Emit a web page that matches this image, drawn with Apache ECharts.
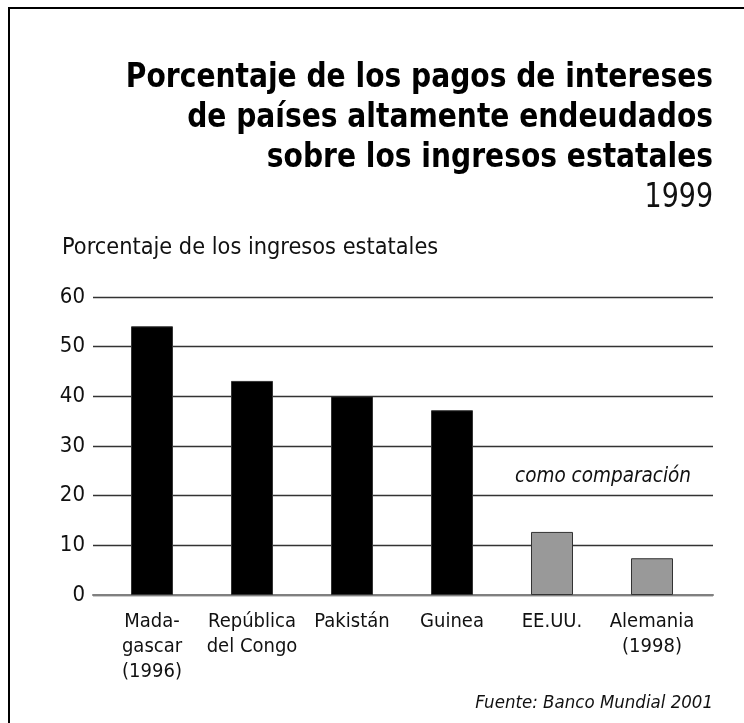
<!DOCTYPE html>
<html>
<head>
<meta charset="utf-8">
<script src="https://cdn.jsdelivr.net/npm/echarts@6/dist/echarts.min.js"></script>
<style>
  html, body { margin: 0; padding: 0; background: #fff; }
  #chart { width: 744px; height: 723px; }
</style>
</head>
<body>
<div id="chart"></div>
<script>
// Data
const categories = ['Mada-\ngascar\n(1996)', 'República\ndel Congo', 'Pakistán', 'Guinea', 'EE.UU.', 'Alemania\n(1998)']
const values = [54.1, 43.1, 40, 37.2, 12.7, 7.4]
const isComparison = [false, false, false, false, true, true]
const yTicks = { min: 0, max: 60, interval: 10 }

const FONT = "'Liberation Sans Narrow', 'DejaVu Sans Condensed', Roboto, sans-serif"
const COL_MAIN = '#000'
const COL_COMP = '#999'
const GRID_LINE = '#333'

const chart = echarts.init(document.getElementById('chart'))

chart.setOption({
  animation: false,
  backgroundColor: '#fff',
  textStyle: { fontFamily: FONT },
  title: [
    {
      text: 'Porcentaje de los ingresos estatales',
      left: 62,
      top: 236,
      padding: 0,
      textStyle: { fontFamily: FONT, fontSize: 23.3, fontWeight: 'normal', color: '#111' },
    },
    {
      text: 'como comparación',
      left: 515,
      top: 467,
      padding: 0,
      textStyle: { fontFamily: FONT, fontSize: 20.5, fontWeight: 'normal', fontStyle: 'italic', color: '#111' },
    },
    {
      text: 'Fuente: Banco Mundial 2001',
      right: 31,
      top: 694,
      padding: 0,
      textStyle: { fontFamily: FONT, fontSize: 18.5, fontWeight: 'normal', fontStyle: 'italic', color: '#111' },
    },
  ],
  graphic: [
    {
      type: 'rect',
      shape: { x: 9, y: 8, width: 900, height: 900 },
      style: { fill: 'none', stroke: '#000', lineWidth: 2 },
      silent: true,
    },
    {
      // headline, squeezed horizontally to mimic the condensed face
      type: 'text',
      x: 713,
      y: 58,
      scaleX: 0.92,
      style: {
        text: 'Porcentaje de los pagos de intereses\nde países altamente endeudados\nsobre los ingresos estatales',
        align: 'right',
        verticalAlign: 'top',
        font: 'bold 34px ' + FONT,
        lineHeight: 40,
        fill: '#000',
      },
    },
    {
      type: 'text',
      x: 713,
      y: 178,
      scaleX: 0.88,
      style: {
        text: '1999',
        align: 'right',
        verticalAlign: 'top',
        font: '34px ' + FONT,
        lineHeight: 40,
        fill: '#111',
      },
    },
  ],
  grid: [
    { left: 93, right: 31, top: 297, bottom: 128 },
    { left: 102, width: 600, top: 297, bottom: 128 },
  ],
  xAxis: [
    {
      gridIndex: 0,
      type: 'value',
      min: 0,
      max: 1,
      axisLine: { show: true, lineStyle: { color: '#808080', width: 2 } },
      axisTick: { show: false },
      axisLabel: { show: false },
      splitLine: { show: false },
    },
    {
      gridIndex: 1,
      type: 'category',
      data: categories,
      axisLine: { show: false },
      axisTick: { show: false },
      axisLabel: {
        color: '#111',
        fontFamily: FONT,
        fontSize: 20,
        lineHeight: 25,
        margin: 14,
        interval: 0,
      },
    },
  ],
  yAxis: [
    {
      gridIndex: 0,
      type: 'value',
      min: yTicks.min,
      max: yTicks.max,
      interval: yTicks.interval,
      axisLine: { show: false },
      axisTick: { show: false },
      axisLabel: { color: '#111', fontFamily: FONT, fontSize: 22, margin: 8 },
      splitLine: { lineStyle: { color: GRID_LINE, width: 1.3 } },
    },
    {
      gridIndex: 1,
      type: 'value',
      min: yTicks.min,
      max: yTicks.max,
      interval: yTicks.interval,
      show: false,
      splitLine: { show: false },
    },
  ],
  series: [
    {
      type: 'bar',
      xAxisIndex: 1,
      yAxisIndex: 1,
      barWidth: 42,
      data: values.map((v, i) => ({
        value: v,
        itemStyle: {
          color: isComparison[i] ? COL_COMP : COL_MAIN,
          borderColor: '#333',
          borderWidth: 1,
        },
      })),
    },
  ],
})
</script>
</body>
</html>
